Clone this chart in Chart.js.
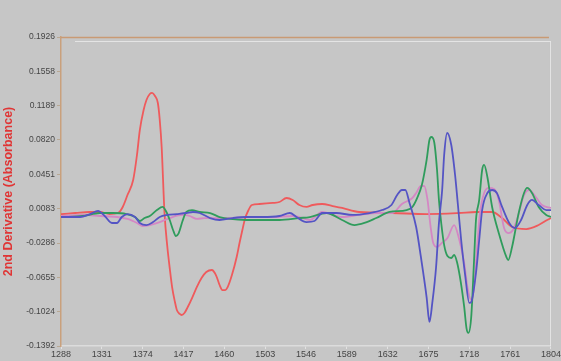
<!DOCTYPE html>
<html>
<head>
<meta charset="utf-8">
<script src="https://cdn.jsdelivr.net/npm/chart.js@4.4.1/dist/chart.umd.min.js"></script>
<style>
html,body{margin:0;padding:0;background:#c6c6c6;}
canvas{display:block;}
</style>
</head>
<body>
<canvas id="c" width="561" height="361"></canvas>
<script>
// Wavenumber tick labels and y tick labels
const xTickValues = [1288,1331,1374,1417,1460,1503,1546,1589,1632,1675,1718,1761,1804];
const yTickValues = [0.1926,0.1558,0.1189,0.0820,0.0451,0.0083,-0.0286,-0.0655,-0.1024,-0.1392];
const yTickLabels = ["0.1926","0.1558","0.1189","0.0820","0.0451","0.0083","-0.0286","-0.0655","-0.1024","-0.1392"];
const yTitle = "2nd Derivative (Absorbance)";

// Red series
const redX = [1288,1303,1318,1329,1339,1348,1353,1358,1364,1368,1371,1375,1378,1381.5,1384,1387,1390,1392,1394,1397,1400,1402.5,1405,1408,1410,1413,1415,1418,1421.5,1426,1431,1436,1441,1447,1450,1452,1455,1458,1461,1463.5,1468,1473,1476,1479,1482,1484.5,1489,1497,1511,1518,1525.5,1532,1539,1546.5,1553,1563,1574,1584,1602,1637,1673,1707,1725,1742,1752.5,1763,1778,1791,1800,1804];
const redY = [0.0025,0.0036,0.0047,0.0047,0.0025,0.0036,0.0101,0.0229,0.0391,0.0659,0.0927,0.1142,0.1250,0.1314,0.1325,0.1292,0.1217,0.1035,0.0745,0.0036,-0.0329,-0.0555,-0.0759,-0.0920,-0.1006,-0.1048,-0.1059,-0.1038,-0.0973,-0.0877,-0.0759,-0.0662,-0.0597,-0.0576,-0.0608,-0.0651,-0.0737,-0.0791,-0.0791,-0.0759,-0.0630,-0.0436,-0.0286,-0.0146,-0.0018,0.0047,0.0122,0.0133,0.0144,0.0154,0.0197,0.0176,0.0122,0.0101,0.0122,0.0133,0.0111,0.0090,0.0047,0.0036,0.0025,0.0036,0.0047,0.0047,-0.0018,-0.0114,-0.0136,-0.0093,-0.0039,-0.0018];

// Blue series
const blueX = [1288,1308,1318.5,1327,1334,1341.6,1347,1352,1358,1366,1371,1378,1385,1392,1400,1410,1420,1427,1434,1445,1455,1469,1483.5,1500,1518,1529,1536,1546.5,1555,1563,1578,1595,1613,1626,1636,1642,1647,1650.6,1655,1662,1667,1673,1676,1679,1683,1686,1689.4,1691.5,1694.7,1699,1703,1706,1709.4,1713.6,1718,1720,1725,1728.4,1731.5,1737,1742,1747,1752.5,1760,1766,1772.5,1779,1784,1791,1799,1804];
const blueY = [-0.0007,-0.0007,0.0025,0.0058,0.0004,-0.0071,-0.0071,-0.0007,0.0025,-0.0007,-0.0071,-0.0093,-0.0061,-0.0007,0.0015,0.0025,0.0036,0.0047,0.0036,-0.0018,-0.0039,-0.0018,-0.0007,-0.0007,0.0004,0.0036,-0.0007,-0.0061,-0.0050,0.0036,0.0036,0.0015,0.0036,0.0068,0.0122,0.0229,0.0283,0.0283,0.0144,-0.0114,-0.0436,-0.0866,-0.1134,-0.0930,-0.0544,-0.0071,0.0283,0.0659,0.0895,0.0766,0.0444,0.0122,-0.0254,-0.0630,-0.0930,-0.0920,-0.0608,-0.0254,0.0068,0.0251,0.0283,0.0251,0.0101,-0.0071,-0.0125,-0.0039,0.0122,0.0176,0.0122,0.0068,0.0068];

// Green series
const greenX = [1288,1311,1329,1342.6,1357,1366,1371,1376,1381.5,1389,1395,1399,1402.5,1406,1409,1412,1416,1420,1426,1434,1445,1455,1466,1483.5,1518,1539,1550,1567.5,1584,1597,1607.5,1620,1634,1652,1658,1663,1668,1673,1676,1678,1681,1684,1686,1688.4,1691.5,1695,1699,1702,1705,1709,1712.6,1715,1717,1720,1723,1725,1728.4,1731.5,1733.6,1737,1742,1749,1757,1759,1763,1770,1775.6,1779,1784,1791,1799,1804];
const greenY = [-0.0007,0.0004,0.0036,0.0036,0.0025,-0.0007,-0.0050,-0.0018,0.0004,0.0068,0.0101,0.0047,-0.0039,-0.0146,-0.0211,-0.0179,-0.0050,0.0047,0.0068,0.0047,0.0036,-0.0007,-0.0028,-0.0039,-0.0039,-0.0018,-0.0007,0.0036,-0.0039,-0.0093,-0.0071,-0.0018,0.0047,0.0068,0.0101,0.0197,0.0337,0.0605,0.0820,0.0852,0.0799,0.0498,0.0176,-0.0071,-0.0308,-0.0426,-0.0447,-0.0415,-0.0490,-0.0705,-0.0973,-0.1199,-0.1252,-0.1081,-0.0469,-0.0039,0.0176,0.0498,0.0552,0.0423,0.0101,-0.0179,-0.0436,-0.0469,-0.0329,0.0036,0.0251,0.0305,0.0251,0.0101,0.0015,-0.0007];

// Pink series
const pinkX = [1288,1311,1329,1347,1358,1368,1374,1381.5,1392,1402.5,1416,1423.6,1431,1439,1448,1462.5,1483.5,1511,1532,1539,1550,1563,1584,1602,1620,1637,1647,1658,1662,1667,1670.5,1674,1677,1680,1684,1689,1695,1702,1707,1712.6,1716,1720,1723,1726,1729,1733.6,1739,1744,1749,1754.6,1759,1764,1769,1775.6,1781,1788,1794.5,1804];
const pinkY = [0.0004,0.0015,0.0004,-0.0007,-0.0028,-0.0071,-0.0104,-0.0093,-0.0061,-0.0018,0.0015,0.0004,-0.0028,-0.0018,-0.0018,-0.0018,-0.0007,-0.0007,0.0004,-0.0007,-0.0039,0.0047,-0.0007,0.0015,0.0036,0.0036,0.0133,0.0197,0.0251,0.0326,0.0326,0.0176,-0.0093,-0.0286,-0.0329,-0.0286,-0.0232,-0.0093,-0.0232,-0.0501,-0.0759,-0.0898,-0.0759,-0.0361,0.0015,0.0251,0.0305,0.0294,0.0176,-0.0125,-0.0179,-0.0146,-0.0007,0.0229,0.0283,0.0208,0.0122,0.0090];

function pts(xs, ys){ return xs.map((x,i)=>({x:x, y:ys[i]})); }

const bgPlugin = {
  id:'bg',
  beforeDraw(chart){
    const c = chart.ctx;
    c.save();
    c.fillStyle = '#c6c6c6';
    c.fillRect(0,0,chart.width,chart.height);
    c.restore();
  },
  beforeDatasetsDraw(chart){
    const c = chart.ctx, a = chart.chartArea;
    c.save();
    c.strokeStyle = 'rgba(235,235,235,0.8)';
    c.lineWidth = 1;
    c.beginPath();
    c.moveTo(a.left+14, a.top+4.5);
    c.lineTo(a.right-0.5, a.top+4.5);
    c.moveTo(a.right-0.5, a.top+4);
    c.lineTo(a.right-0.5, a.bottom);
    c.stroke();
    c.strokeStyle = '#c99a74';
    c.lineWidth = 1.5;
    c.beginPath();
    c.moveTo(a.left, a.top+0.5);
    c.lineTo(a.right-2, a.top+0.5);
    c.stroke();
    c.restore();
  }
};

const ds = (label, xs, ys, color) => ({
  label, data: pts(xs, ys), borderColor: color, borderWidth: 1.8,
  pointRadius: 0, fill: false, cubicInterpolationMode: 'monotone'
});

new Chart(document.getElementById('c'), {
  type: 'line',
  data: {
    datasets: [
      ds('blue', blueX, blueY, '#5454c4'),
      ds('green', greenX, greenY, '#2f9c5c'),
      ds('pink', pinkX, pinkY, '#d487c4'),
      ds('red', redX, redY, '#ef5a5c')
    ]
  },
  options: {
    responsive: false,
    animation: false,
    devicePixelRatio: 1,
    layout: { padding: { top: 37, right: 9, left: 0, bottom: 0 } },
    plugins: { legend: { display: false }, tooltip: { enabled: false } },
    scales: {
      x: {
        type: 'linear',
        min: 1288, max: 1804,
        afterBuildTicks(scale){ scale.ticks = xTickValues.map(v=>({value:v})); },
        afterFit(scale){ scale.height = 15; },
        ticks: {
          callback: (v) => String(v),
          color: '#454545',
          font: { family: 'Liberation Sans, Arial', size: 9 },
          padding: 0, maxRotation: 0, autoSkip: false
        },
        grid: { drawOnChartArea: false, drawTicks: true, tickLength: 3, color: '#e2e2e2' },
        border: { display: true, color: '#dcdcdc', width: 1.5 }
      },
      y: {
        type: 'linear',
        min: -0.1392, max: 0.1926,
        afterBuildTicks(scale){ scale.ticks = yTickValues.map(v=>({value:v})); },
        afterFit(scale){ scale.width = 61; },
        ticks: {
          callback: (v, i) => yTickLabels[i],
          color: '#454545',
          font: { family: 'Liberation Sans, Arial', size: 8.5 },
          padding: 2, autoSkip: false
        },
        grid: { drawOnChartArea: false, drawTicks: true, tickLength: 4, color: '#b8a894' },
        border: { display: true, color: '#c9a07c', width: 1.5 },
        title: {
          display: true, text: yTitle, color: '#e03535',
          font: { family: 'Liberation Sans, Arial', size: 12.5, weight: 'bold' },
          padding: { top: 1, bottom: 0 }
        }
      }
    }
  },
  plugins: [bgPlugin]
});
</script>
</body>
</html>
